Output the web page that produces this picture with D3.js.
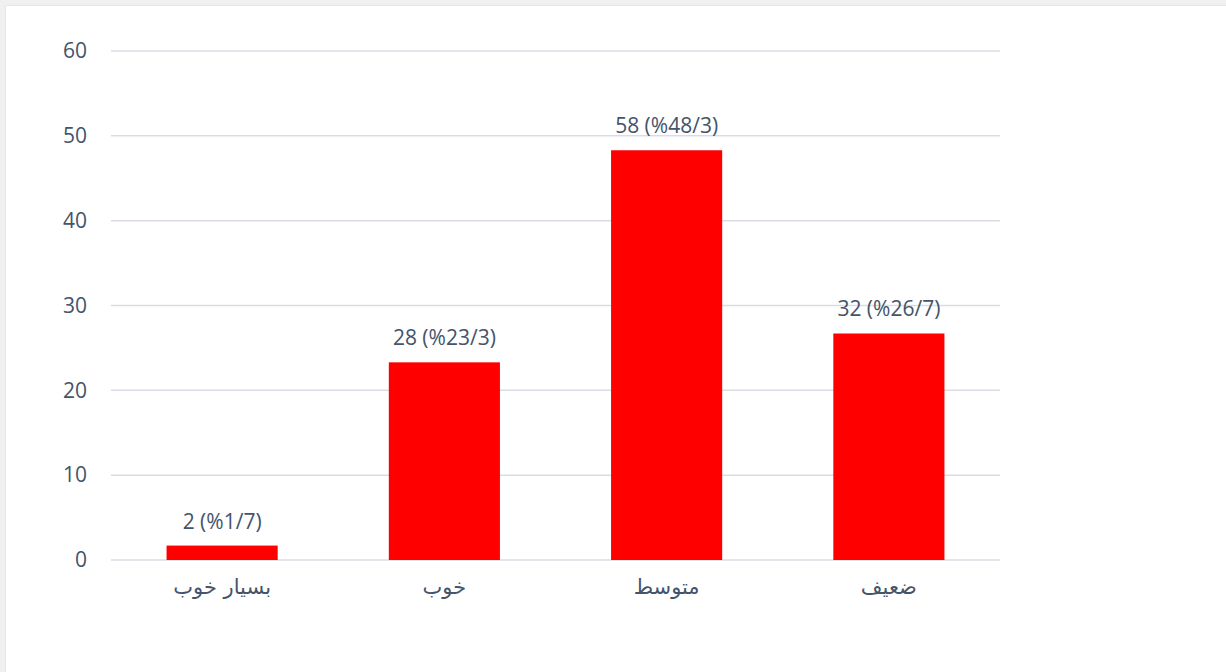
<!DOCTYPE html>
<html>
<head>
<meta charset="utf-8">
<script src="https://cdn.jsdelivr.net/npm/d3@7"></script>
<style>
  html, body { margin: 0; padding: 0; background: #f0f0f0; overflow: hidden; }
  #chart { position: absolute; left: 5px; top: 5px; width: 1221px; height: 667px;
           background: #fff; border-left: 1px solid #e3e6eb; border-top: 1px solid #e3e6eb; }
</style>
</head>
<body>
<div id="chart"></div>
<script>
// data
const categories = ["بسیار خوب", "خوب", "متوسط", "ضعیف"];
const percents = [1.7, 23.3, 48.3, 26.7];
const labels = ["2 (%1/7)", "28 (%23/3)", "58 (%48/3)", "32 (%26/7)"];
const yTicks = [0, 10, 20, 30, 40, 50, 60];

const W = 1221, H = 667;
// plot area in page coords: x 111..1000, y 51..560
const margin = {top: 45, left: 105};
const width = 889, height = 509;

var svg = d3.select("#chart")
  .append("svg")
    .attr("width", W)
    .attr("height", H)
  .append("g")
    .attr("transform", "translate(" + margin.left + "," + margin.top + ")");

var x = d3.scaleBand()
  .domain(categories)
  .range([0, width])
  .paddingInner(0.5)
  .paddingOuter(0.25);

var y = d3.scaleLinear()
  .domain([0, 60])
  .range([height, 0]);

// gridlines
svg.append("g")
  .selectAll("line")
  .data(yTicks)
  .enter()
  .append("line")
    .attr("x1", 0)
    .attr("x2", width)
    .attr("y1", d => y(d))
    .attr("y2", d => y(d))
    .style("stroke", "#d9dde3")
    .style("stroke-width", 1.5);

// y axis labels
var yAxis = svg.append("g")
  .call(d3.axisLeft(y).tickValues(yTicks).tickSize(0).tickPadding(24));
yAxis.select(".domain").remove();
yAxis.selectAll("text")
  .style("font-family", "'Open Sans', 'Noto Sans', sans-serif")
  .style("font-size", "21px")
  .style("fill", "#44546a");

// bars
svg.append("g")
  .selectAll("rect")
  .data(percents)
  .enter()
  .append("rect")
    .attr("x", (d, i) => x(categories[i]))
    .attr("y", d => y(d))
    .attr("width", x.bandwidth())
    .attr("height", d => y(0) - y(d))
    .style("fill", "#ff0000");

// value labels
svg.append("g")
  .selectAll("text")
  .data(percents)
  .enter()
  .append("text")
    .attr("x", (d, i) => x(categories[i]) + x.bandwidth() / 2)
    .attr("y", d => y(d) - 17)
    .attr("text-anchor", "middle")
    .attr("direction", "ltr")
    .style("font-family", "'Open Sans', 'Noto Sans', sans-serif")
    .style("font-size", "21px")
    .style("fill", "#44546a")
    .text((d, i) => labels[i]);

// x axis labels
var xAxis = svg.append("g")
  .attr("transform", "translate(0," + height + ")")
  .call(d3.axisBottom(x).tickSize(0).tickPadding(19));
xAxis.select(".domain").remove();
xAxis.selectAll("text")
  .style("font-family", "'DejaVu Sans', sans-serif")
  .style("font-size", "21px")
  .style("fill", "#44546a");
</script>
</body>
</html>
